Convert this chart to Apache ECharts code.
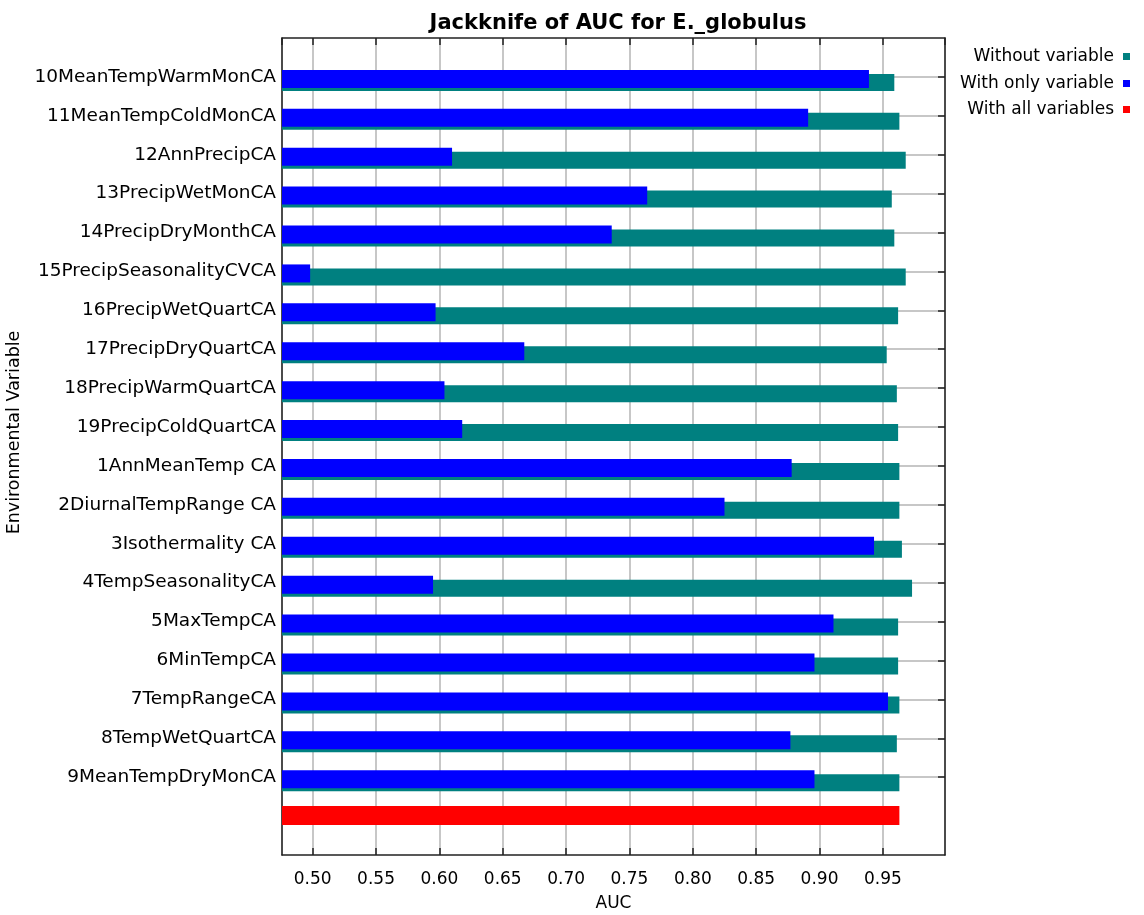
<!DOCTYPE html>
<html>
<head>
<meta charset="utf-8">
<title>Jackknife of AUC</title>
<script src="https://cdn.jsdelivr.net/npm/echarts@6/dist/echarts.min.js"></script>
<style>
    html, body {
        margin: 0;
        padding: 0;
        background: #fff;
    }

    #chart {
        width: 1144px;
        height: 915px;
    }
</style>
</head>
<body>
<div id="chart"></div>
<script>
// environmental variables, top to bottom
const categories = [
    '10MeanTempWarmMonCA', '11MeanTempColdMonCA', '12AnnPrecipCA', '13PrecipWetMonCA',
    '14PrecipDryMonthCA', '15PrecipSeasonalityCVCA', '16PrecipWetQuartCA', '17PrecipDryQuartCA',
    '18PrecipWarmQuartCA', '19PrecipColdQuartCA', '1AnnMeanTemp CA', '2DiurnalTempRange CA',
    '3Isothermality CA', '4TempSeasonalityCA', '5MaxTempCA', '6MinTempCA',
    '7TempRangeCA', '8TempWetQuartCA', '9MeanTempDryMonCA'
]
const withoutVariable = [
    0.959, 0.963, 0.968, 0.957, 0.959, 0.968, 0.962, 0.953, 0.961, 0.962,
    0.963, 0.963, 0.965, 0.973, 0.962, 0.962, 0.963, 0.961, 0.963
]
const withOnlyVariable = [
    0.939, 0.891, 0.610, 0.764, 0.736, 0.498, 0.597, 0.667, 0.604, 0.618,
    0.878, 0.825, 0.943, 0.595, 0.911, 0.896, 0.954, 0.877, 0.896
]
const withAllVariables = 0.963
const aucMin = 0.4758
const aucMax = 0.999

// one empty slot above, the "all variables" row and one empty slot below
const rows = [''].concat(categories, ['', ''])
const allRow = categories.length + 1

const font = 'DejaVu Sans'
const showRow = (i) => i >= 1 && i <= categories.length

function barRender(top, bottom) {
    return function (params, api) {
        const start = api.coord([aucMin, api.value(1)])
        const end = api.coord([api.value(0), api.value(1)])
        return {
            type: 'rect',
            shape: {x: start[0], y: start[1] + top, width: end[0] - start[0], height: bottom - top},
            style: api.style()
        }
    }
}

function legendFor(name, top) {
    return {
        data: [name],
        orient: 'vertical',
        align: 'right',
        right: 14,
        top: top,
        padding: 0,
        icon: 'rect',
        itemWidth: 7,
        itemHeight: 7,
        selectedMode: false,
        textStyle: {fontFamily: font, fontSize: 17, color: '#000', padding: [0, 4, 0, 0]}
    }
}

const chart = echarts.init(document.getElementById('chart'))
chart.setOption({
    animation: false,
    title: {
        text: 'Jackknife of AUC for E._globulus',
        left: 613,
        top: 8,
        textAlign: 'center',
        textStyle: {fontFamily: font, fontSize: 21, fontWeight: 'bold', color: '#000'}
    },
    legend: [
        legendFor('Without variable', 48),
        legendFor('With only variable', 75),
        legendFor('With all variables', 101)
    ],
    grid: {left: 282, top: 38, width: 663, height: 817, containLabel: false, outerBoundsMode: 'none'},
    xAxis: [
        {
            type: 'value',
            min: aucMin,
            max: aucMax,
            splitNumber: 10,
            name: 'AUC',
            nameLocation: 'middle',
            nameGap: 40,
            nameTextStyle: {fontFamily: font, fontSize: 17, color: '#000'},
            axisLine: {show: true, lineStyle: {color: '#222', width: 1.5}},
            axisTick: {show: true, inside: true, length: 7, lineStyle: {color: '#222', width: 1.5}},
            axisLabel: {
                margin: 16,
                showMinLabel: false,
                showMaxLabel: false,
                fontFamily: font,
                fontSize: 17,
                color: '#000',
                formatter: (v) => v.toFixed(2)
            },
            splitLine: {show: true, lineStyle: {color: '#b4b4b4', width: 1.5}}
        },
        {
            type: 'value',
            position: 'top',
            min: aucMin,
            max: aucMax,
            splitNumber: 10,
            axisLine: {show: true, lineStyle: {color: '#222', width: 1.5}},
            axisTick: {show: true, inside: true, length: 7, lineStyle: {color: '#222', width: 1.5}},
            axisLabel: {show: false},
            splitLine: {show: false}
        }
    ],
    yAxis: [
        {
            type: 'category',
            data: rows,
            inverse: true,
            boundaryGap: false,
            name: 'Environmental Variable',
            nameLocation: 'middle',
            nameGap: 252,
            nameRotate: 90,
            nameTextStyle: {fontFamily: font, fontSize: 17.5, color: '#000', padding: [0, 0, 0, 28]},
            axisLine: {show: true, lineStyle: {color: '#222', width: 1.5}},
            axisTick: {show: false},
            axisLabel: {interval: 0, margin: 6, fontFamily: font, fontSize: 18.5, color: '#000'},
            splitLine: {show: true, interval: showRow, lineStyle: {color: '#b4b4b4', width: 1.5}}
        },
        {
            type: 'category',
            data: rows,
            inverse: true,
            boundaryGap: false,
            position: 'right',
            axisLine: {show: true, lineStyle: {color: '#222', width: 1.5}},
            axisTick: {show: true, inside: true, length: 7, interval: showRow, lineStyle: {color: '#222', width: 1.5}},
            axisLabel: {show: false},
            splitLine: {show: false}
        }
    ],
    series: [
        {
            name: 'Without variable',
            type: 'custom',
            renderItem: barRender(-3, 14),
            itemStyle: {color: '#008080'},
            encode: {x: 0, y: 1},
            data: withoutVariable.map((v, i) => [v, i + 1]),
            clip: true
        },
        {
            name: 'With only variable',
            type: 'custom',
            renderItem: barRender(-7, 11),
            itemStyle: {color: '#0000ff'},
            encode: {x: 0, y: 1},
            data: withOnlyVariable.map((v, i) => [v, i + 1]),
            clip: true
        },
        {
            name: 'With all variables',
            type: 'custom',
            renderItem: barRender(-10, 9),
            itemStyle: {color: '#ff0000'},
            encode: {x: 0, y: 1},
            data: [[withAllVariables, allRow]],
            clip: true
        }
    ]
})
</script>
</body>
</html>
